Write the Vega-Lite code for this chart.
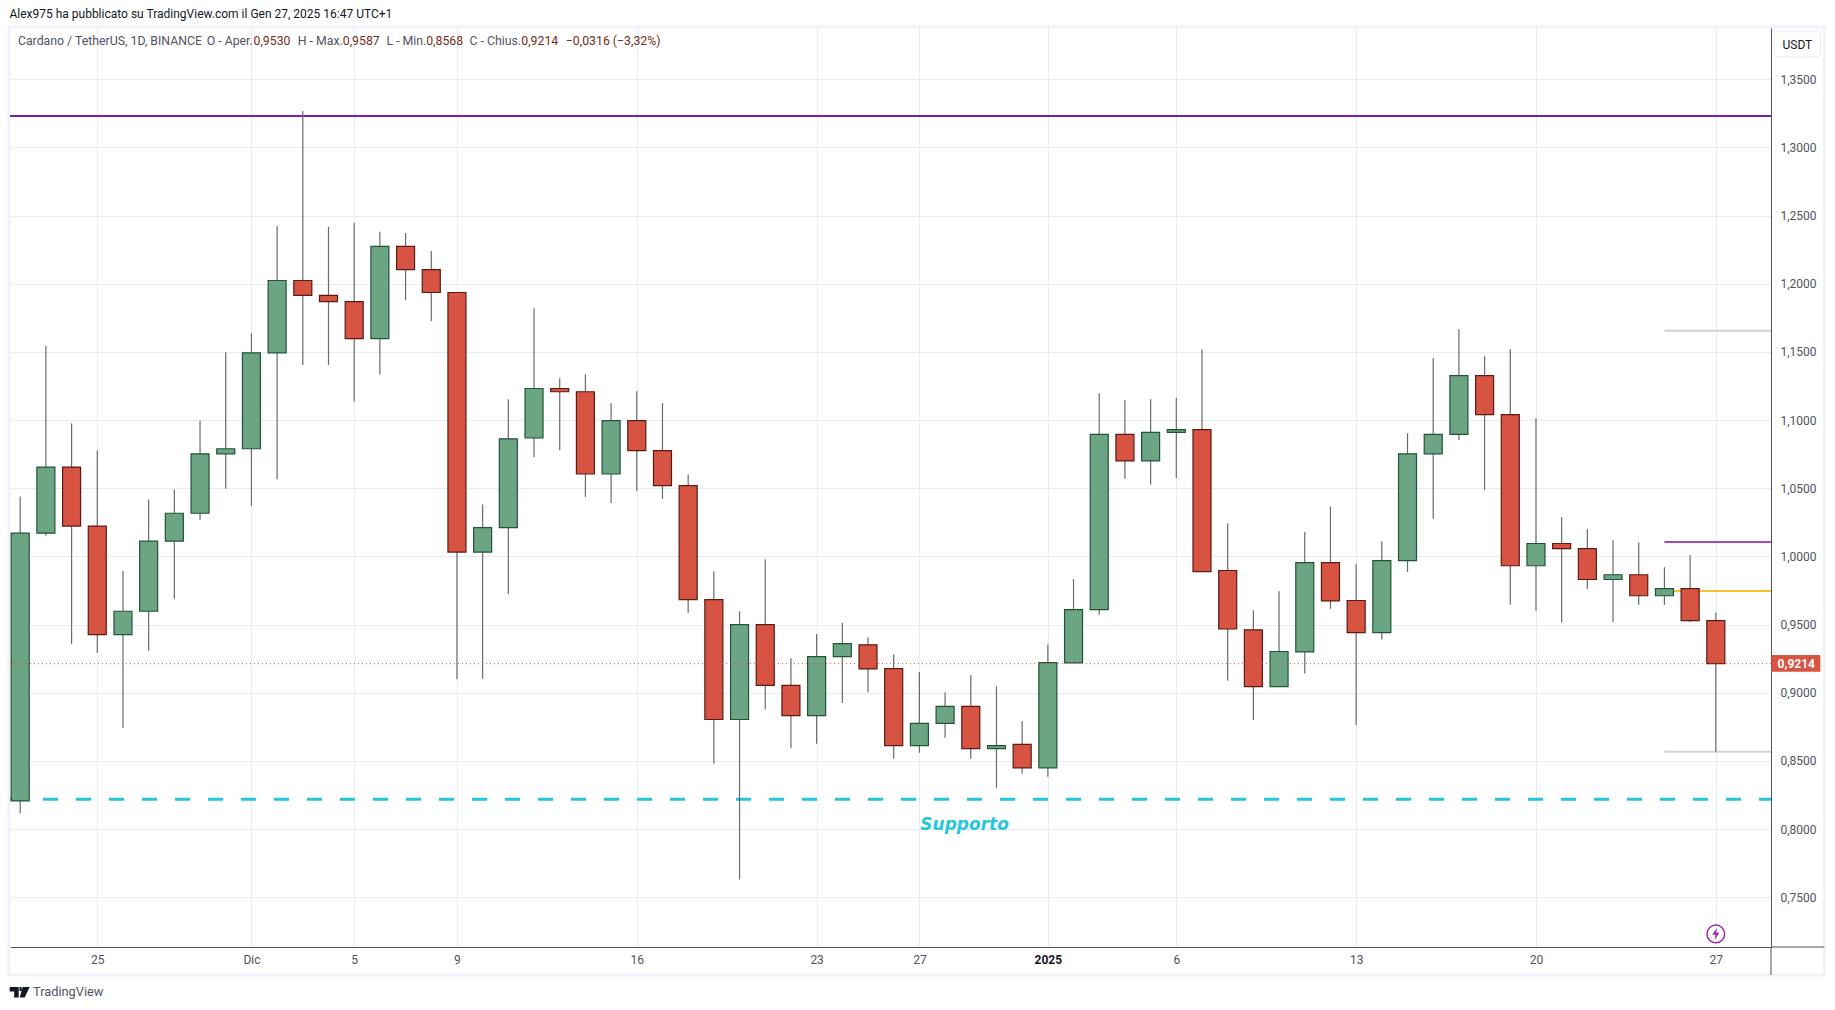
{"$schema":"https://vega.github.io/schema/vega-lite/v6.json","width":1761,"height":920,"autosize":{"type":"none"},"padding":{"left":10,"top":27,"right":64,"bottom":63},"background":"#ffffff","view":{"stroke":null},"config":{"font":"Roboto"},
"encoding":{"x":{"field":"date","type":"temporal","title":null,"scale":{"type":"utc","domain":[1732199299200,1738121587200],"nice":false,"padding":0},"axis":{"values":[1732492800000,1733011200000,1733356800000,1733702400000,1734307200000,1734912000000,1735257600000,1735689600000,1736121600000,1736726400000,1737331200000,1737936000000],"labelExpr":"utcdate(datum.value)==1 ? (utcmonth(datum.value)==0 ? '2025' : 'Dic') : utcFormat(datum.value,'%-d')","labelFont":"Roboto","labelFontSize":12,"labelColor":{"condition":{"test":"utcdate(datum.value)==1 && utcmonth(datum.value)==0","value":"#131722"},"value":"#50535e"},"labelFontWeight":{"condition":{"test":"utcdate(datum.value)==1 && utcmonth(datum.value)==0","value":"bold"},"value":"normal"},"labelPadding":7,"labelOverlap":false,"labelFlush":false,"tickSize":0,"ticks":false,"domain":true,"domainColor":"#50535e","domainWidth":1,"grid":true,"gridColor":"#e4edf4","gridWidth":1}},
"y":{"field":"price","type":"quantitative","title":null,"scale":{"domain":[0.71354,1.38836],"nice":false,"zero":false,"padding":0},"axis":{"values":[0.75,0.8,0.85,0.9,0.95,1.0,1.05,1.1,1.15,1.2,1.25,1.3,1.35],"orient":"right","labelExpr":"replace(format(datum.value,'.4f'),'.',',')","labelFont":"Roboto","labelFontSize":12,"labelColor":"#50535e","labelPadding":9,"labelOverlap":false,"tickSize":0,"ticks":false,"domain":true,"domainColor":"#50535e","domainWidth":1,"grid":true,"gridColor":"#e4edf4","gridWidth":1}}},
"layer":[
{"data":{"values":[{"date":1732195929600,"date2":1738301126400,"price":1.38836,"price2":0.693}]},"mark":{"type":"rect","fill":null,"stroke":"#f0f3fa","strokeWidth":3},"encoding":{"x2":{"field":"date2"},"y2":{"field":"price2"}}},
{"data":{"values":[{"date":"2025-01-29T03:33:07Z","date2":1738301126400,"price":0.71354,"price2":0.71354},{"date":"2025-01-29T03:33:07Z","date2":"2025-01-29T03:33:07Z","price":0.71354,"price2":0.693}]},"mark":{"type":"rule","color":"#50535e","strokeWidth":1},"encoding":{"x2":{"field":"date2"},"y2":{"field":"price2"}}},
{"data":{"values":[{"date":"2024-11-21T14:28:19Z","date2":"2025-01-29T03:33:07Z","price":1.3231}]},"mark":{"type":"rule","color":"#7b1fa2","strokeWidth":2},"encoding":{"x2":{"field":"date2"}}},
{"data":{"values":[{"date":"2024-11-21T14:28:19Z","date2":"2025-01-29T03:33:07Z","price":0.8219}]},"mark":{"type":"rule","color":"#26c6da","strokeWidth":3,"strokeDash":[15,18]},"encoding":{"x2":{"field":"date2"}}},
{"data":{"values":[{"date":"2025-01-25","date2":"2025-01-29T03:33:07Z","price":1.1655},{"date":"2025-01-25","date2":"2025-01-29T03:33:07Z","price":0.8567}]},"mark":{"type":"rule","color":"#d1d1de","strokeWidth":2},"encoding":{"x2":{"field":"date2"}}},
{"data":{"values":[{"date":"2025-01-25","date2":"2025-01-29T03:33:07Z","price":1.0106}]},"mark":{"type":"rule","color":"#ab47bc","strokeWidth":2},"encoding":{"x2":{"field":"date2"}}},
{"data":{"values":[{"date":"2025-01-25","date2":"2025-01-29T03:33:07Z","price":0.9747}]},"mark":{"type":"rule","color":"#fbc02d","strokeWidth":2},"encoding":{"x2":{"field":"date2"}}},
{"data":{"name":"candles","values":[
{"date":"2024-11-22","open":0.8207,"high":1.0439,"low":0.8116,"close":1.0171,"dir":"up"},
{"date":"2024-11-23","open":1.0171,"high":1.1543,"low":1.0152,"close":1.0656,"dir":"up"},
{"date":"2024-11-24","open":1.0656,"high":1.0976,"low":0.9357,"close":1.0223,"dir":"down"},
{"date":"2024-11-25","open":1.0223,"high":1.0777,"low":0.9293,"close":0.9427,"dir":"down"},
{"date":"2024-11-26","open":0.9427,"high":0.9893,"low":0.8741,"close":0.9598,"dir":"up"},
{"date":"2024-11-27","open":0.9598,"high":1.0418,"low":0.9308,"close":1.0113,"dir":"up"},
{"date":"2024-11-28","open":1.0113,"high":1.0491,"low":0.9689,"close":1.0317,"dir":"up"},
{"date":"2024-11-29","open":1.0317,"high":1.0997,"low":1.0268,"close":1.0753,"dir":"up"},
{"date":"2024-11-30","open":1.0753,"high":1.1497,"low":1.0497,"close":1.0790,"dir":"up"},
{"date":"2024-12-01","open":1.0790,"high":1.1637,"low":1.0372,"close":1.1494,"dir":"up"},
{"date":"2024-12-02","open":1.1494,"high":1.2424,"low":1.0567,"close":1.2024,"dir":"up"},
{"date":"2024-12-03","open":1.2024,"high":1.3267,"low":1.1405,"close":1.1915,"dir":"down"},
{"date":"2024-12-04","open":1.1915,"high":1.2418,"low":1.1405,"close":1.1869,"dir":"down"},
{"date":"2024-12-05","open":1.1869,"high":1.2448,"low":1.1137,"close":1.1598,"dir":"down"},
{"date":"2024-12-06","open":1.1598,"high":1.2381,"low":1.1335,"close":1.2274,"dir":"up"},
{"date":"2024-12-07","open":1.2274,"high":1.2372,"low":1.1881,"close":1.2104,"dir":"down"},
{"date":"2024-12-08","open":1.2104,"high":1.2241,"low":1.1726,"close":1.1936,"dir":"down"},
{"date":"2024-12-09","open":1.1936,"high":1.1936,"low":0.9100,"close":1.0032,"dir":"down"},
{"date":"2024-12-10","open":1.0032,"high":1.0382,"low":0.9103,"close":1.0211,"dir":"up"},
{"date":"2024-12-11","open":1.0211,"high":1.1153,"low":0.9723,"close":1.0863,"dir":"up"},
{"date":"2024-12-12","open":1.0869,"high":1.1820,"low":1.0730,"close":1.1232,"dir":"up"},
{"date":"2024-12-13","open":1.1232,"high":1.1307,"low":1.0779,"close":1.1208,"dir":"down"},
{"date":"2024-12-14","open":1.1208,"high":1.1336,"low":1.0437,"close":1.0605,"dir":"down"},
{"date":"2024-12-15","open":1.0605,"high":1.1124,"low":1.0393,"close":1.0997,"dir":"up"},
{"date":"2024-12-16","open":1.0997,"high":1.1211,"low":1.0480,"close":1.0776,"dir":"down"},
{"date":"2024-12-17","open":1.0776,"high":1.1124,"low":1.0422,"close":1.0520,"dir":"down"},
{"date":"2024-12-18","open":1.0520,"high":1.0602,"low":0.9587,"close":0.9683,"dir":"down"},
{"date":"2024-12-19","open":0.9683,"high":0.9892,"low":0.8479,"close":0.8804,"dir":"down"},
{"date":"2024-12-20","open":0.8804,"high":0.9599,"low":0.7630,"close":0.9500,"dir":"up"},
{"date":"2024-12-21","open":0.9500,"high":0.9979,"low":0.8877,"close":0.9054,"dir":"down"},
{"date":"2024-12-22","open":0.9054,"high":0.9254,"low":0.8595,"close":0.8833,"dir":"down"},
{"date":"2024-12-23","open":0.8833,"high":0.9431,"low":0.8627,"close":0.9265,"dir":"up"},
{"date":"2024-12-24","open":0.9265,"high":0.9512,"low":0.8926,"close":0.9361,"dir":"up"},
{"date":"2024-12-25","open":0.9352,"high":0.9407,"low":0.9004,"close":0.9175,"dir":"down"},
{"date":"2024-12-26","open":0.9178,"high":0.9283,"low":0.8517,"close":0.8613,"dir":"down"},
{"date":"2024-12-27","open":0.8613,"high":0.9152,"low":0.8561,"close":0.8775,"dir":"up"},
{"date":"2024-12-28","open":0.8775,"high":0.9004,"low":0.8671,"close":0.8900,"dir":"up"},
{"date":"2024-12-29","open":0.8900,"high":0.9129,"low":0.8517,"close":0.8590,"dir":"down"},
{"date":"2024-12-30","open":0.8590,"high":0.9048,"low":0.8302,"close":0.8613,"dir":"up"},
{"date":"2024-12-31","open":0.8621,"high":0.8793,"low":0.8407,"close":0.8450,"dir":"down"},
{"date":"2025-01-01","open":0.8450,"high":0.9355,"low":0.8384,"close":0.9222,"dir":"up"},
{"date":"2025-01-02","open":0.9219,"high":0.9834,"low":0.9219,"close":0.9610,"dir":"up"},
{"date":"2025-01-03","open":0.9610,"high":1.1197,"low":0.9573,"close":1.0895,"dir":"up"},
{"date":"2025-01-04","open":1.0895,"high":1.1147,"low":1.0570,"close":1.0701,"dir":"down"},
{"date":"2025-01-05","open":1.0701,"high":1.1153,"low":1.0527,"close":1.0910,"dir":"up"},
{"date":"2025-01-06","open":1.0910,"high":1.1162,"low":1.0576,"close":1.0930,"dir":"up"},
{"date":"2025-01-07","open":1.0930,"high":1.1519,"low":0.9889,"close":0.9889,"dir":"down"},
{"date":"2025-01-08","open":0.9897,"high":1.0243,"low":0.9088,"close":0.9468,"dir":"down"},
{"date":"2025-01-09","open":0.9462,"high":0.9605,"low":0.8801,"close":0.9045,"dir":"down"},
{"date":"2025-01-10","open":0.9045,"high":0.9744,"low":0.9045,"close":0.9303,"dir":"up"},
{"date":"2025-01-11","open":0.9300,"high":1.0179,"low":0.9141,"close":0.9955,"dir":"up"},
{"date":"2025-01-12","open":0.9955,"high":1.0367,"low":0.9616,"close":0.9674,"dir":"down"},
{"date":"2025-01-13","open":0.9677,"high":0.9944,"low":0.8764,"close":0.9442,"dir":"down"},
{"date":"2025-01-14","open":0.9442,"high":1.0112,"low":0.9390,"close":0.9970,"dir":"up"},
{"date":"2025-01-15","open":0.9970,"high":1.0904,"low":0.9886,"close":1.0753,"dir":"up"},
{"date":"2025-01-16","open":1.0753,"high":1.1455,"low":1.0277,"close":1.0895,"dir":"up"},
{"date":"2025-01-17","open":1.0895,"high":1.1666,"low":1.0854,"close":1.1327,"dir":"up"},
{"date":"2025-01-18","open":1.1327,"high":1.1469,"low":1.0489,"close":1.1040,"dir":"down"},
{"date":"2025-01-19","open":1.1040,"high":1.1519,"low":0.9645,"close":0.9932,"dir":"down"},
{"date":"2025-01-20","open":0.9932,"high":1.1014,"low":0.9602,"close":1.0095,"dir":"up"},
{"date":"2025-01-21","open":1.0095,"high":1.0289,"low":0.9515,"close":1.0057,"dir":"down"},
{"date":"2025-01-22","open":1.0057,"high":1.0199,"low":0.9764,"close":0.9831,"dir":"down"},
{"date":"2025-01-23","open":0.9831,"high":1.0118,"low":0.9520,"close":0.9866,"dir":"up"},
{"date":"2025-01-24","open":0.9866,"high":1.0103,"low":0.9645,"close":0.9712,"dir":"down"},
{"date":"2025-01-25","open":0.9712,"high":0.9921,"low":0.9645,"close":0.9764,"dir":"up"},
{"date":"2025-01-26","open":0.9764,"high":1.0011,"low":0.9520,"close":0.9529,"dir":"down"},
{"date":"2025-01-27","open":0.9530,"high":0.9587,"low":0.8568,"close":0.9214,"dir":"down"}
]},"layer":[
{"mark":{"type":"rule","color":"#6a6a6c","strokeWidth":1.2},"encoding":{"y":{"field":"low","type":"quantitative","title":null,"scale":{"domain":[0.71354,1.38836],"nice":false,"zero":false,"padding":0},"axis":{"values":[0.75,0.8,0.85,0.9,0.95,1.0,1.05,1.1,1.15,1.2,1.25,1.3,1.35],"orient":"right","labelExpr":"replace(format(datum.value,'.4f'),'.',',')","labelFont":"Roboto","labelFontSize":12,"labelColor":"#50535e","labelPadding":9,"labelOverlap":false,"tickSize":0,"ticks":false,"domain":true,"domainColor":"#50535e","domainWidth":1,"grid":true,"gridColor":"#e4edf4","gridWidth":1}},"y2":{"field":"high"}}},
{"mark":{"type":"bar","size":18,"strokeWidth":1.2,"orient":"vertical"},"encoding":{"y":{"field":"open","type":"quantitative","title":null,"scale":{"domain":[0.71354,1.38836],"nice":false,"zero":false,"padding":0},"axis":{"values":[0.75,0.8,0.85,0.9,0.95,1.0,1.05,1.1,1.15,1.2,1.25,1.3,1.35],"orient":"right","labelExpr":"replace(format(datum.value,'.4f'),'.',',')","labelFont":"Roboto","labelFontSize":12,"labelColor":"#50535e","labelPadding":9,"labelOverlap":false,"tickSize":0,"ticks":false,"domain":true,"domainColor":"#50535e","domainWidth":1,"grid":true,"gridColor":"#e4edf4","gridWidth":1}},"y2":{"field":"close"},"fill":{"field":"dir","type":"nominal","scale":{"domain":["up","down"],"range":["#6ba583","#d75442"]},"legend":null},"stroke":{"field":"dir","type":"nominal","scale":{"domain":["up","down"],"range":["#225437","#5b1a13"]},"legend":null}}}
]},
{"data":{"values":[{"date":"2024-11-21T14:28:19Z","date2":"2025-01-29T03:33:07Z","price":0.9214}]},"mark":{"type":"rule","color":"#d75442","strokeWidth":1,"strokeDash":[1,3]},"encoding":{"x2":{"field":"date2"}}},
{"data":{"values":[{"date":1738122624000,"date2":1738287648000,"price":0.9277,"price2":0.9155}]},"mark":{"type":"rect","fill":"#d75442","cornerRadius":1},"encoding":{"x2":{"field":"date2"},"y2":{"field":"price2"}}},
{"data":{"values":[{"date":1738132992000,"date2":1738287648000,"price":1.3854,"price2":1.3664}]},"mark":{"type":"rect","fill":"#ffffff","stroke":"#e8eaf2","strokeWidth":1,"cornerRadius":4},"encoding":{"x2":{"field":"date2"},"y2":{"field":"price2"}}},
{"data":{"values":[{"date":1738206432000,"price":0.9214,"label":"0,9214"}]},"mark":{"type":"text","font":"Roboto","fontSize":12,"fontWeight":"bold","color":"#ffffff","align":"center","baseline":"middle"},"encoding":{"text":{"field":"label"}}},
{"data":{"values":[{"date":1738210320000,"price":1.3754,"label":"USDT"}]},"mark":{"type":"text","font":"Roboto","fontSize":12,"color":"#131722","align":"center","baseline":"middle"},"encoding":{"text":{"field":"label"}}},
{"data":{"values":[{"date":1732197312000,"price":1.3979,"label":"Alex975 ha pubblicato su TradingView.com il Gen 27, 2025 16:47 UTC+1"}]},"mark":{"type":"text","font":"Roboto","fontSize":12,"color":"#131722","align":"left","baseline":"middle"},"encoding":{"text":{"field":"label"}}},
{"data":{"values":[{"date":1732225867200,"price":1.3781,"label":"Cardano / TetherUS, 1D, BINANCE"},{"date":1732860864000,"price":1.3781,"label":"O - Aper."},{"date":1733166892800,"price":1.3781,"label":"H - Max."},{"date":1733465404800,"price":1.3781,"label":"L - Min."},{"date":1733744390400,"price":1.3781,"label":"C - Chius."}]},"mark":{"type":"text","font":"Roboto","fontSize":12.3,"color":"#50535e","align":"left","baseline":"middle"},"encoding":{"text":{"field":"label"}}},
{"data":{"values":[{"date":1733018284800,"price":1.3781,"label":"0,9530"},{"date":1733318438400,"price":1.3781,"label":"0,9587"},{"date":1733598892800,"price":1.3781,"label":"0,8568"},{"date":1733918572800,"price":1.3781,"label":"0,9214"},{"date":1734068476800,"price":1.3781,"label":"−0,0316 (−3,32%)"}]},"mark":{"type":"text","font":"Roboto","fontSize":12.3,"color":"#7a2a20","align":"left","baseline":"middle"},"encoding":{"text":{"field":"label"}}},
{"data":{"values":[{"date":1735409664000,"price":0.8027,"label":"Supporto"}]},"mark":{"type":"text","font":"DejaVu Sans","fontSize":17,"fontStyle":"italic","fontWeight":"bold","color":"#26c6da","align":"center","baseline":"middle"},"encoding":{"text":{"field":"label"}}},
{"data":{"values":[{"date":"2025-01-27","price":0.7231}]},"mark":{"type":"point","shape":"circle","size":314,"filled":false,"color":"#9c27b0","strokeWidth":1.5,"opacity":1}},
{"data":{"values":[{"date":"2025-01-27","price":0.7231}]},"mark":{"type":"point","shape":"M0.2,-1 L-0.6,0.15 L-0.05,0.15 L-0.2,1 L0.6,-0.2 L0.05,-0.2 Z","size":144,"filled":true,"color":"#9c27b0","opacity":1}},
{"data":{"values":[{"date":1732231872000,"price":0.6805}]},"mark":{"type":"point","shape":"M-1,-0.5 L-0.1,-0.5 L-0.1,0.55 L-0.55,0.55 L-0.55,-0.05 L-1,-0.05 Z M-0.02,-0.5 L0.2,-0.5 L0.2,-0.1 L-0.02,-0.1 Z M0.3,-0.5 L1,-0.5 L0.5,0.55 L0,0.55 Z","size":400,"filled":true,"color":"#131722","opacity":1}},
{"data":{"values":[{"date":1732276627200,"price":0.6805,"label":"TradingView"}]},"mark":{"type":"text","font":"Roboto","fontSize":12.8,"color":"#50535e","align":"left","baseline":"middle"},"encoding":{"text":{"field":"label"}}}
]}
